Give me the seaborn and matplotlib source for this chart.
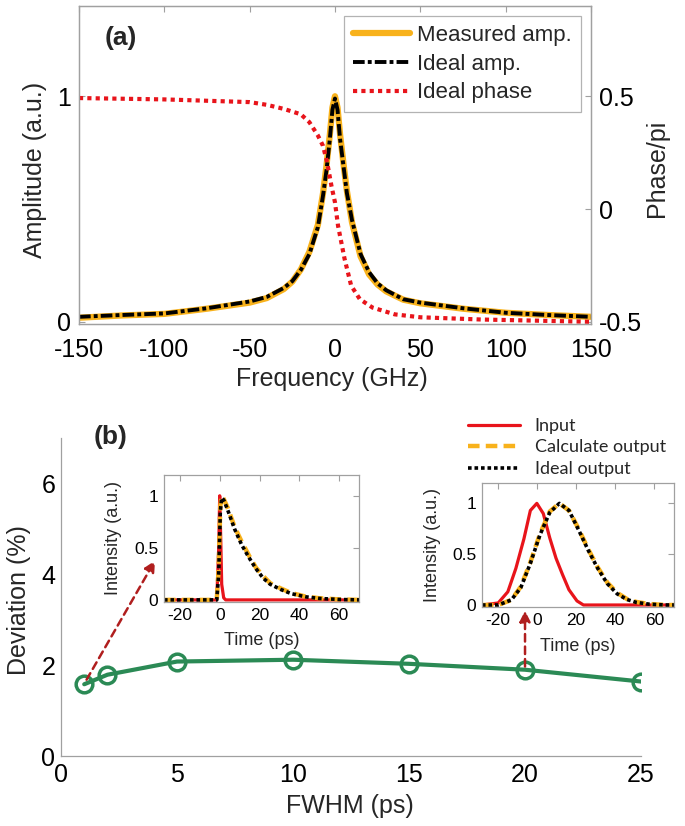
import numpy as np
import pandas as pd
import seaborn as sns
import matplotlib.pyplot as plt
from matplotlib.lines import Line2D

# --- data ---
freq = [-150, -125, -100, -75, -50, -40, -30, -25, -20, -15, -10, -7, -5, -3, -1.5, 0,
        1.5, 3, 5, 7, 10, 15, 20, 25, 30, 40, 50, 75, 100, 125, 150]
amp_measured = [0.018, 0.028, 0.035, 0.058, 0.085, 0.105, 0.145, 0.178, 0.232, 0.31, 0.43,
                0.57, 0.69, 0.83, 0.95, 1.0, 0.95, 0.83, 0.70, 0.58, 0.44, 0.29, 0.21, 0.165,
                0.135, 0.098, 0.082, 0.058, 0.04, 0.03, 0.022]
amp_ideal = [0.022, 0.03, 0.037, 0.06, 0.09, 0.11, 0.15, 0.18, 0.23, 0.30, 0.42, 0.56, 0.67,
             0.81, 0.94, 0.99, 0.94, 0.81, 0.69, 0.57, 0.45, 0.30, 0.22, 0.17, 0.14, 0.10,
             0.085, 0.06, 0.04, 0.03, 0.022]
freq_phase = [-150, -100, -50, -40, -30, -20, -15, -10, -7, -4.6, -2, 0, 1.8, 5.6, 9.5,
              14.6, 22, 35, 50, 86, 150]
phase_ideal = [0.492, 0.486, 0.474, 0.462, 0.444, 0.42, 0.385, 0.326, 0.28, 0.207, 0.10,
               0.03, -0.074, -0.22, -0.34, -0.40, -0.437, -0.467, -0.48, -0.49, -0.50]

fwhm = [1, 2, 5, 10, 15, 20, 25]
deviation = [1.58, 1.79, 2.08, 2.12, 2.03, 1.90, 1.64]

# inset 1 (FWHM = 1 ps)
t_in1 = [-28, -1.5, -0.5, 0, 0.5, 1, 2, 3, 70]
in1 = [0, 0, 0.5, 1.0, 0.6, 0.15, 0.02, 0, 0]
t_out1 = [-28, -1.5, -0.5, 0.3, 1, 2, 3.9, 7.5, 11, 14.6, 18.2, 21.8, 25.4, 30.7, 36, 43,
          50, 60, 70]
out1_calc = [0, 0, 0.3, 0.9, 1.0, 0.97, 0.89, 0.70, 0.56, 0.43, 0.31, 0.23, 0.16, 0.11,
             0.066, 0.033, 0.016, 0.005, 0]
out1_ideal = [0, 0, 0.25, 0.85, 0.98, 0.96, 0.87, 0.68, 0.53, 0.41, 0.30, 0.21, 0.15, 0.10,
              0.06, 0.03, 0.014, 0.004, 0]

# inset 2 (FWHM = 20 ps)
t_in2 = [-28, -19.7, -14.8, -10.7, -6.6, -3.3, 0, 3.3, 6.6, 9.8, 13.1, 16.4, 20.5, 23.8, 70]
in2 = [0, 0.02, 0.13, 0.36, 0.65, 0.93, 1.0, 0.9, 0.66, 0.46, 0.30, 0.15, 0.04, 0, 0]
t_out2 = [-28, -19.7, -13, -8.2, -3.3, 1.6, 6.6, 11.5, 16.4, 21.3, 26.2, 31.1, 36, 41,
          45.9, 50.8, 57.4, 65.6, 70]
out2_calc = [0, 0, 0.05, 0.18, 0.42, 0.70, 0.92, 1.0, 0.93, 0.75, 0.55, 0.37, 0.22, 0.12,
             0.06, 0.03, 0.01, 0, 0]
out2_ideal = [0, 0, 0.05, 0.17, 0.41, 0.69, 0.91, 1.0, 0.93, 0.74, 0.54, 0.36, 0.21, 0.11,
              0.055, 0.025, 0.008, 0, 0]

# --- style ---
ORANGE = '#F8B21C'
RED = '#E8141B'
GREEN = '#2B8A55'
ARROW = '#B01E1E'
SPINE = '#A0A0A0'

sns.set_theme(style='white')
plt.rcParams['font.family'] = ['Liberation Sans', 'DejaVu Sans']
plt.rcParams['axes.unicode_minus'] = False
plt.rcParams['lines.dash_capstyle'] = 'butt'


def style_axes(ax, size, full_box=True, pad_x=6, pad_y=5):
    for side, sp in ax.spines.items():
        sp.set_color(SPINE)
        sp.set_linewidth(0.9)
        if not full_box and side in ('top', 'right'):
            sp.set_visible(False)
    ax.tick_params(direction='in', length=4, width=0.8, color=SPINE,
                   labelsize=size, labelcolor='black', top=full_box, right=full_box)
    ax.tick_params(axis='x', pad=pad_x)
    ax.tick_params(axis='y', pad=pad_y)


fig = plt.figure(figsize=(6.85, 8.26), dpi=100)

# --- panel (a) ---
ax_a = fig.add_axes([0.1153, 0.6077, 0.7474, 0.385])
sns.lineplot(x=freq, y=amp_measured, ax=ax_a, color=ORANGE, lw=4.5, label='Measured amp.')
sns.lineplot(x=freq, y=amp_ideal, ax=ax_a, color='black', lw=2.8,
             linestyle=(0, (3, 0.8, 1, 0.8)), label='Ideal amp.')
ax_a.set_xlim(-150, 150)
ax_a.set_ylim(-0.01, 1.4)
ax_a.set_xticks([-150, -100, -50, 0, 50, 100, 150])
ax_a.set_yticks([0, 1])
ax_a.set_yticklabels(['0', '1'])
style_axes(ax_a, 18, pad_x=10, pad_y=6)
ax_a.tick_params(right=False)

ax_p = ax_a.twinx()
sns.lineplot(x=freq_phase, y=phase_ideal, ax=ax_p, color=RED, lw=3,
             linestyle=(0, (1, 1)), label='Ideal phase')
ax_p.set_ylim(-0.51, 0.90)
ax_p.set_yticks([-0.5, 0, 0.5])
ax_p.set_yticklabels(['-0.5', '0', '0.5'])
style_axes(ax_p, 18, pad_y=6)
ax_p.tick_params(left=False, top=False)

ax_a.set_xlabel('Frequency (GHz)', fontsize=18)
ax_a.xaxis.set_label_coords(0.494, -0.135)
ax_a.set_ylabel('Amplitude (a.u.)', fontsize=18)
ax_a.yaxis.set_label_coords(-0.062, 0.484)
ax_p.set_ylabel('Phase/pi', fontsize=18, rotation=90)
ax_p.yaxis.set_label_coords(1.106, 0.49)
ax_a.text(0.051, 0.90, '(a)', transform=ax_a.transAxes, fontsize=19,
          fontweight='bold', ha='left', va='center')

h1, l1 = ax_a.get_legend_handles_labels()
h2, l2 = ax_p.get_legend_handles_labels()
ax_a.get_legend().remove()
leg_a = ax_p.legend(h1 + h2, l1 + l2, loc='upper right', bbox_to_anchor=(0.980, 0.969),
                    borderaxespad=0, fontsize=16, handlelength=2.6, handletextpad=0.3,
                    labelspacing=0.35, borderpad=0.4, frameon=True, fancybox=False)
leg_a.get_frame().set_edgecolor(SPINE)
leg_a.get_frame().set_linewidth(0.9)

# --- panel (b) ---
ax_b = fig.add_axes([0.0891, 0.0847, 0.8467, 0.385])
sns.lineplot(x=fwhm, y=deviation, ax=ax_b, color=GREEN, lw=3, marker='o', markersize=12,
             markerfacecolor='none', markeredgecolor=GREEN, markeredgewidth=2.5)
ax_b.set_xlim(0, 25)
ax_b.set_ylim(0, 7)
ax_b.set_xticks([0, 5, 10, 15, 20, 25])
ax_b.set_yticks([0, 2, 4, 6])
style_axes(ax_b, 18, full_box=False, pad_x=5, pad_y=4)
ax_b.set_xlabel('FWHM (ps)', fontsize=18)
ax_b.xaxis.set_label_coords(0.498, -0.118)
ax_b.set_ylabel('Deviation (%)', fontsize=18)
ax_b.yaxis.set_label_coords(-0.052, 0.49)
fig.text(94 / 685, 1 - 437 / 826, '(b)', fontsize=19, fontweight='bold',
         ha='left', va='center')

arrow_kw = dict(arrowstyle='-|>', color=ARROW, lw=1.8, linestyle=(0, (3, 2)),
                mutation_scale=16, shrinkA=0, shrinkB=0)
ax_b.annotate('', xy=(4.05, 4.3), xytext=(1.1, 1.68), arrowprops=arrow_kw,
              annotation_clip=False)
ax_b.annotate('', xy=(20, 3.2), xytext=(20, 1.97), arrowprops=arrow_kw,
              annotation_clip=False)


def draw_inset(rect, t_in, y_in, t_out, y_calc, y_ideal):
    ax = fig.add_axes(rect)
    sns.lineplot(x=t_in, y=y_in, ax=ax, color=RED, lw=2.3, label='Input')
    sns.lineplot(x=t_out, y=y_calc, ax=ax, color=ORANGE, lw=3.2,
                 linestyle=(0, (2.6, 1.4)), label='Calculate output')
    sns.lineplot(x=t_out, y=y_ideal, ax=ax, color='black', lw=2.6,
                 linestyle=(0, (1, 0.8)), label='Ideal output')
    ax.get_legend().remove()
    ax.set_xlim(-28, 70)
    ax.set_ylim(-0.02, 1.2)
    ax.set_xticks([-20, 0, 20, 40, 60])
    ax.set_yticks([0, 0.5, 1])
    ax.set_yticklabels(['0', '0.5', '1'])
    style_axes(ax, 12.5, pad_x=4, pad_y=4)
    ax.set_xlabel('Time (ps)', fontsize=13)
    ax.set_ylabel('Intensity (a.u.)', fontsize=13)
    return ax


ax_i1 = draw_inset([0.2394, 0.2712, 0.2847, 0.1538], t_in1, in1, t_out1, out1_calc, out1_ideal)
ax_i1.xaxis.set_label_coords(0.5, -0.236)
ax_i1.yaxis.set_label_coords(-0.214, 0.5)
ax_i2 = draw_inset([0.7036, 0.2651, 0.2803, 0.1501], t_in2, in2, t_out2, out2_calc, out2_ideal)
ax_i2.xaxis.set_label_coords(0.5, -0.25)
ax_i2.yaxis.set_label_coords(-0.213, 0.5)

handles = [Line2D([], [], color=RED, lw=2.3),
           Line2D([], [], color=ORANGE, lw=3.2, linestyle=(0, (2.6, 1.4))),
           Line2D([], [], color='black', lw=2.6, linestyle=(0, (1, 0.8)))]
fig.legend(handles, ['Input', 'Calculate output', 'Ideal output'], loc='upper left',
           bbox_to_anchor=(468 / 685, 1 - 418 / 826), frameon=False, borderpad=0,
           borderaxespad=0, handlelength=2.9, handletextpad=0.8, labelspacing=0.3,
           prop={'family': ['Lato', 'DejaVu Sans'], 'size': 13})

fig.savefig('out.png', dpi=100)
